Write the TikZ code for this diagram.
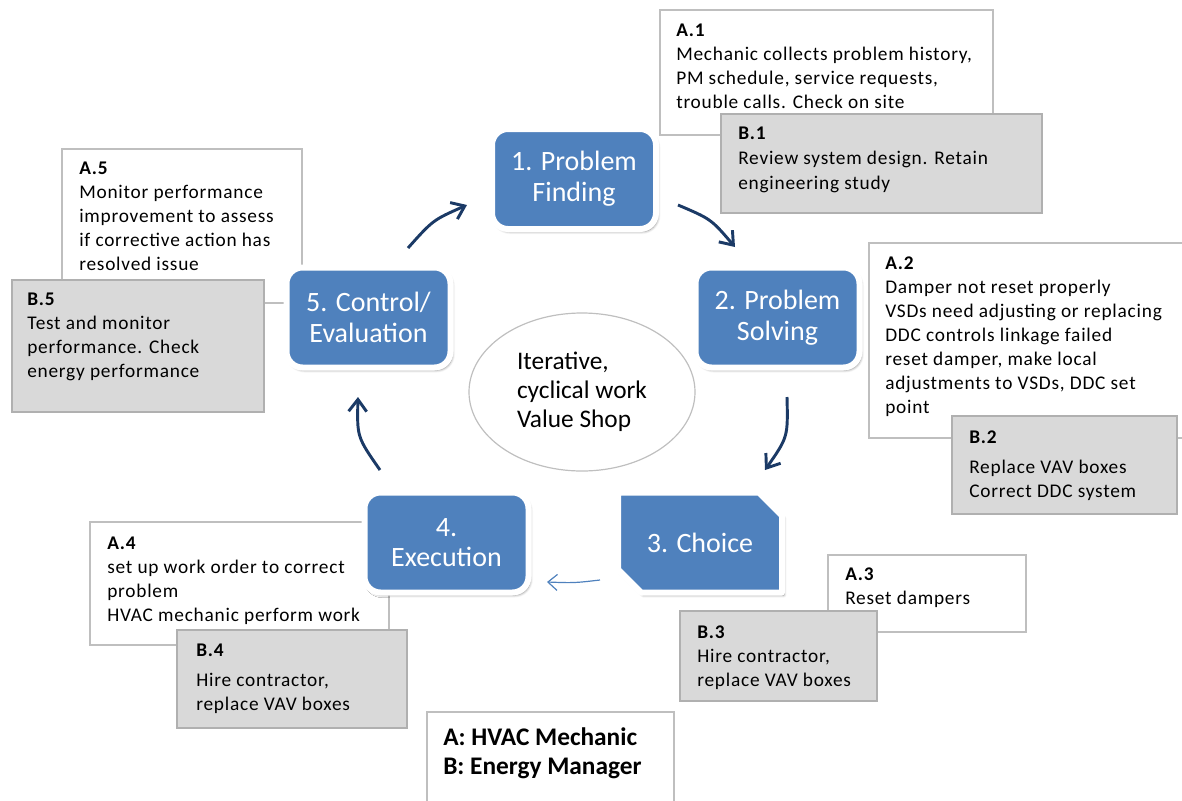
\documentclass[tikz,border=0pt]{standalone}
\usepackage{fontspec}
\setmainfont{Carlito}
\newfontfamily\boxfont[LetterSpace=4]{Carlito}
\usetikzlibrary{arrows.meta,shapes.geometric,shapes.misc,shadows.blur,fit}

\definecolor{nodeblue}{HTML}{4F81BD}
\definecolor{arrownavy}{HTML}{1B3A66}
\definecolor{boxgrey}{HTML}{D9D9D9}
\definecolor{edgegrey}{HTML}{BFBFBF}
\definecolor{edgedark}{HTML}{B0B0B0}

\tikzset{
  abox/.style={draw=edgegrey, fill=white, line width=0.9pt, inner sep=0pt},
  bbox/.style={draw=edgedark, fill=boxgrey, line width=0.9pt, inner sep=0pt},
  boxtext/.style={anchor=north west, inner sep=0pt, align=left,
    font=\boxfont\fontsize{14.5}{18}\selectfont},
  stage/.style={rounded corners=12pt, fill=nodeblue, draw=white, line width=4.5pt,
    text=white, minimum width=123pt, minimum height=75pt, inner sep=0pt,
    align=center, font=\fontsize{21}{23}\selectfont,
    blur shadow={shadow xshift=1.5pt, shadow yshift=-2pt, shadow blur steps=6, shadow opacity=45}},
  cyc/.style={-{Straight Barb[length=9pt,width=13.5pt]}, draw=arrownavy, line width=2.2pt},
  thinarrow/.style={-{Straight Barb[length=7pt,width=12pt]}, draw=nodeblue, line width=0.9pt},
}

\begin{document}
\begin{tikzpicture}[x=0.75pt, y=-0.75pt]
\useasboundingbox (0,0) rectangle (1182,800);

% ---- mechanic (A) and energy manager (B) notes ----
\node[abox, fit={(660,10)(993,135)}] (a1) {};
\node[boxtext] (a1t) at (676,24) {\textbf{A.1}\\Mechanic collects problem history,\\PM schedule, service requests,\\trouble calls. Check on site};
\node[bbox, fit={(721,114)(1042,213)}] (b1) {};
\node[boxtext] (b1t) at (738,127) {\textbf{B.1}\\[0.8pt]Review system design. Retain\\[0.8pt]engineering study};

\node[abox, fit={(869,243)(1188,438)}] (a2) {};
\node[boxtext] (a2t) at (885,257) {\textbf{A.2}\\Damper not reset properly\\VSDs need adjusting or replacing\\DDC controls linkage failed\\reset damper, make local\\adjustments to VSDs, DDC set\\point};
\node[bbox, fit={(952,416)(1177,514)}] (b2) {};
\node[boxtext] (b2t) at (969,431) {\textbf{B.2}\\[4pt]Replace VAV boxes\\Correct DDC system};

\node[abox, fit={(828,555)(1026,632)}] (a3) {};
\node[boxtext] (a3t) at (845,568) {\textbf{A.3}\\Reset dampers};
\node[bbox, fit={(680,611)(877,701)}] (b3) {};
\node[boxtext] (b3t) at (697,626) {\textbf{B.3}\\Hire contractor,\\replace VAV boxes};

\node[abox, fit={(90,522)(389,645)}] (a4) {};
\node[boxtext] (a4t) at (107,537) {\textbf{A.4}\\set up work order to correct\\problem\\HVAC mechanic perform work};
\node[bbox, fit={(177,630)(407,728)}] (b4) {};
\node[boxtext] (b4t) at (196,644) {\textbf{B.4}\\[4pt]Hire contractor,\\replace VAV boxes};

\node[abox, fit={(62,149)(302,303)}] (a5) {};
\node[boxtext] (a5t) at (79,162) {\textbf{A.5}\\Monitor performance\\improvement to assess\\if corrective action has\\resolved issue};
\node[bbox, fit={(12,280)(264,412)}] (b5) {};
\node[boxtext] (b5t) at (27,293) {\textbf{B.5}\\Test and monitor\\performance. Check\\energy performance};

% ---- legend ----
\node[abox, fit={(427,712)(674,806)}] (legend) {};
\node[anchor=north west, inner sep=0pt, align=left, font=\bfseries\fontsize{19}{21.75}\selectfont] (legendt) at (443,727) {A: HVAC Mechanic\\B:\ Energy Manager};

% ---- centre ----
\node[ellipse, draw=edgegrey, line width=0.9pt, minimum width=169.5pt, minimum height=118.5pt,
  align=left, font=\fontsize{19}{21.75}\selectfont] (core) at (582,392) {Iterative,\\cyclical work\\Value Shop};

% ---- stages ----
\node[stage] (s1) at (574,179) {1. Problem\\Finding};
\node[stage] (s2) at (777.5,317.5) {2. Problem\\Solving};
\node[stage, sharp corners, line join=round, chamfered rectangle,
  chamfered rectangle corners={north east,south west},
  chamfered rectangle xsep=10pt, chamfered rectangle ysep=10pt] (s3) at (700,542.5) {3. Choice};
\node[stage] (s4) at (446.5,542.5) {4.\\Execution};
\node[stage] (s5) at (368.5,317.5) {5. Control/\\Evaluation};

% ---- cycle arrows ----
\coordinate (c51s) at (408,248);
\coordinate (c51e) at (467,205);
\coordinate (c12s) at (678,205);
\coordinate (c12e) at (735,247);
\coordinate (c23s) at (787,397);
\coordinate (c23e) at (765,470);
\coordinate (c34s) at (600,580);
\coordinate (c34e) at (547,582);
\coordinate (c45s) at (380,470);
\coordinate (c45e) at (358,397);

\draw[cyc] (c51s) .. controls (433,220) .. (c51e);
\draw[cyc] (c12s) .. controls (711,219) .. (c12e);
\draw[cyc] (c23s) .. controls (788,437) .. (c23e);
\draw[thinarrow] (c34s) .. controls (574,583) .. (c34e);
\draw[cyc] (c45s) .. controls (357,437) .. (c45e);
\end{tikzpicture}
\end{document}
